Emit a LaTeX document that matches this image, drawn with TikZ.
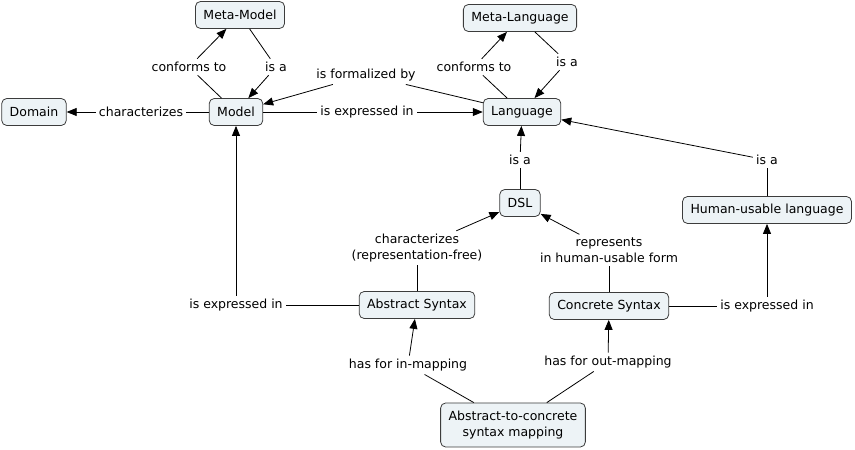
\documentclass[tikz,border=0pt]{standalone}
\usepackage{fontspec}
\setmainfont{DejaVu Sans}
\usetikzlibrary{arrows.meta,positioning,calc}
\definecolor{boxfill}{HTML}{EDF3F6}
\definecolor{boxline}{HTML}{3C3C3C}
\begin{document}
\begin{tikzpicture}[
                x=1pt,y=1pt,
                font=\fontsize{12.5}{15.5}\selectfont,
                line width=0.8pt,
                concept/.style={draw=boxline,fill=boxfill,rounded corners=5pt,
                    inner xsep=8pt,minimum height=27pt,align=center},
                link/.style={inner sep=3pt,align=center},
                arr/.style={-{Triangle[length=10pt,width=8pt]}}
            ]
                \useasboundingbox (0,0) rectangle (855,450);
                \node[concept] (metamodel) at (240,435) {Meta-Model};
                \node[concept] (metalang)  at (520,432) {Meta-Language};
                \node[concept] (domain)    at (34,338)  {Domain};
                \node[concept] (model)     at (236,338) {Model};
                \node[concept] (lang)      at (522,338) {Language};
                \node[concept] (dsl)       at (520,247) {DSL};
                \node[concept] (human)     at (767,240) {Human-usable language};
                \node[concept] (abs)       at (417,145) {Abstract Syntax};
                \node[concept] (conc)      at (609,144) {Concrete Syntax};
                \node[concept,minimum height=44pt] (mapping) at (513,25) {Abstract-to-concrete\\syntax mapping};

                \node[link] (confMM)  at (189,383) {conforms to};
                \node[link] (isaMM)   at (276,383) {is a};
                \node[link] (charDom) at (141,338) {characterizes};
                \node[link] (formal)  at (366,375) {is formalized by};
                \node[link] (exprLang) at (367,338) {is expressed in};
                \node[link] (confML)  at (474,383) {conforms to};
                \node[link] (isaML)   at (567,388) {is a};
                \node[link] (isaDSL)  at (520,290) {is a};
                \node[link] (isaHum)  at (767,290) {is a};
                \node[link] (charDSL) at (417,202) {characterizes\\(representation-free)};
                \node[link] (repr)    at (609,200) {represents\\in human-usable form};
                \node[link] (exprMod) at (236,145) {is expressed in};
                \node[link] (exprHum) at (767,144) {is expressed in};
                \node[link] (inMap)   at (408,85)  {has for in-mapping};
                \node[link] (outMap)  at (608,88)  {has for out-mapping};

                \draw (model) -- (confMM);      \draw[arr] (confMM) -- (metamodel);
                \draw (metamodel) -- (isaMM);   \draw[arr] (isaMM) -- (model);
                \draw (model) -- (charDom);     \draw[arr] (charDom) -- (domain);
                \draw (lang) -- (formal);       \draw[arr] (formal) -- (model);
                \draw (model) -- (exprLang);    \draw[arr] (exprLang) -- (lang);
                \draw (lang) -- (confML);       \draw[arr] (confML) -- (metalang);
                \draw (metalang) -- (isaML);    \draw[arr] (isaML) -- (lang);
                \draw (dsl) -- (isaDSL);        \draw[arr] (isaDSL) -- (lang);
                \draw (human) -- (isaHum);      \draw[arr] (isaHum) -- (lang);
                \draw (abs) -- (charDSL);       \draw[arr] (charDSL) -- (dsl);
                \draw (conc) -- (repr);         \draw[arr] (repr) -- (dsl);
                \draw (abs) -- (exprMod);       \draw[arr] (exprMod) -- (model);
                \draw (conc) -- (exprHum);      \draw[arr] (exprHum) -- (human);
                \draw (mapping) -- (inMap);     \draw[arr] (inMap) -- (abs);
                \draw (mapping) -- (outMap);    \draw[arr] (outMap) -- (conc);
            \end{tikzpicture}
\end{document}
